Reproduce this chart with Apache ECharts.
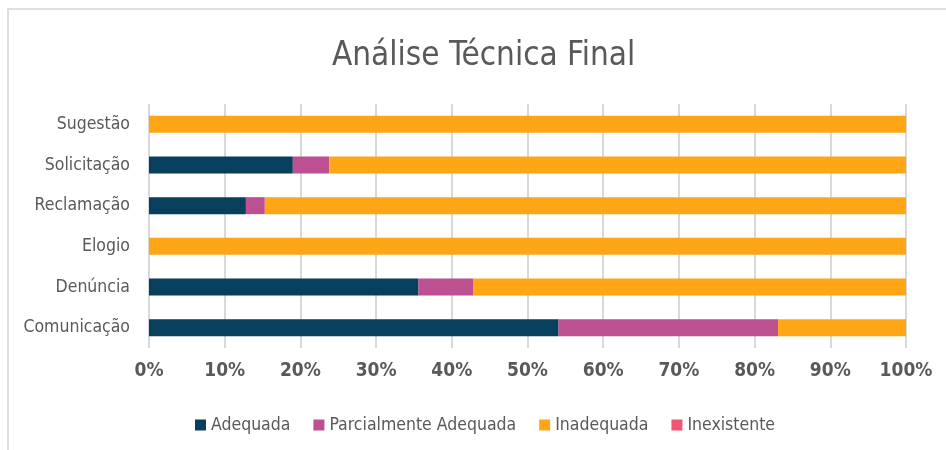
<!DOCTYPE html>
<html>
<head>
<meta charset="utf-8">
<script src="https://cdn.jsdelivr.net/npm/echarts@6/dist/echarts.min.js"></script>
<style>
    html, body { margin: 0; padding: 0; background: #fff; }
    #main { width: 946px; height: 450px; }
</style>
</head>
<body>
<div id="main"></div>
<script>
// categories go bottom -> top on the y axis
const categories = ['Comunicação', 'Denúncia', 'Elogio', 'Reclamação', 'Solicitação', 'Sugestão'];
const adequada = [54.1, 35.6, 0, 12.8, 19.0, 0];
const parcial = [29.0, 7.2, 0, 2.5, 4.8, 0];
const inadequada = [16.9, 57.2, 100, 84.7, 76.2, 100];
const inexistente = [0, 0, 0, 0, 0, 0];
const tickLabels = ['0%', '10%', '20%', '30%', '40%', '50%', '60%', '70%', '80%', '90%', '100%'];

const font = '"DejaVu Sans Condensed", sans-serif';
const grey = '#595959';

function getChart() {
    let chartDom = document.getElementById('main');
    let myChart = echarts.init(chartDom);

    let makeSeries = (name, data, color) => ({
        name: name,
        type: 'bar',
        stack: 'total',
        data: data,
        barWidth: 17,
        itemStyle: { color: color },
        emphasis: { disabled: true }
    });

    let option = {
        animation: false,
        textStyle: { fontFamily: font },
        graphic: [{
            type: 'rect',
            shape: { x: 8, y: 9, width: 980, height: 480 },
            style: { fill: 'none', stroke: '#e0e0e0', lineWidth: 2 },
            silent: true
        }],
        title: {
            text: 'Análise Técnica Final',
            left: 327,
            top: 35,
            textStyle: { fontFamily: font, fontSize: 33, fontWeight: 'normal', color: grey }
        },
        legend: {
            left: 190,
            top: 411,
            itemWidth: 11,
            itemHeight: 11,
            itemGap: 23,
            icon: 'rect',
            textStyle: { fontFamily: font, fontSize: 17.5, color: grey },
            data: ['Adequada', 'Parcialmente Adequada', 'Inadequada', 'Inexistente']
        },
        grid: { left: 149, right: 40, top: 104, bottom: 102, containLabel: false },
        xAxis: {
            type: 'value',
            min: 0,
            max: 100,
            interval: 10,
            axisLine: { show: false },
            axisTick: { show: false },
            splitLine: { lineStyle: { color: '#d9d9d9', width: 2 } },
            axisLabel: {
                margin: 14,
                fontFamily: font,
                fontSize: 19,
                fontWeight: 'bold',
                color: grey,
                formatter: (v) => tickLabels[Math.round(v / 10)]
            }
        },
        yAxis: {
            type: 'category',
            data: categories,
            axisLine: { show: false },
            axisTick: { show: false },
            axisLabel: { margin: 19, fontFamily: font, fontSize: 17.5, color: grey }
        },
        series: [
            makeSeries('Adequada', adequada, '#073f5c'),
            makeSeries('Parcialmente Adequada', parcial, '#bc5090'),
            makeSeries('Inadequada', inadequada, '#ffa616'),
            makeSeries('Inexistente', inexistente, '#ef5675')
        ]
    };
    myChart.setOption(option);
}

window.addEventListener('load', getChart);
</script>
</body>
</html>
